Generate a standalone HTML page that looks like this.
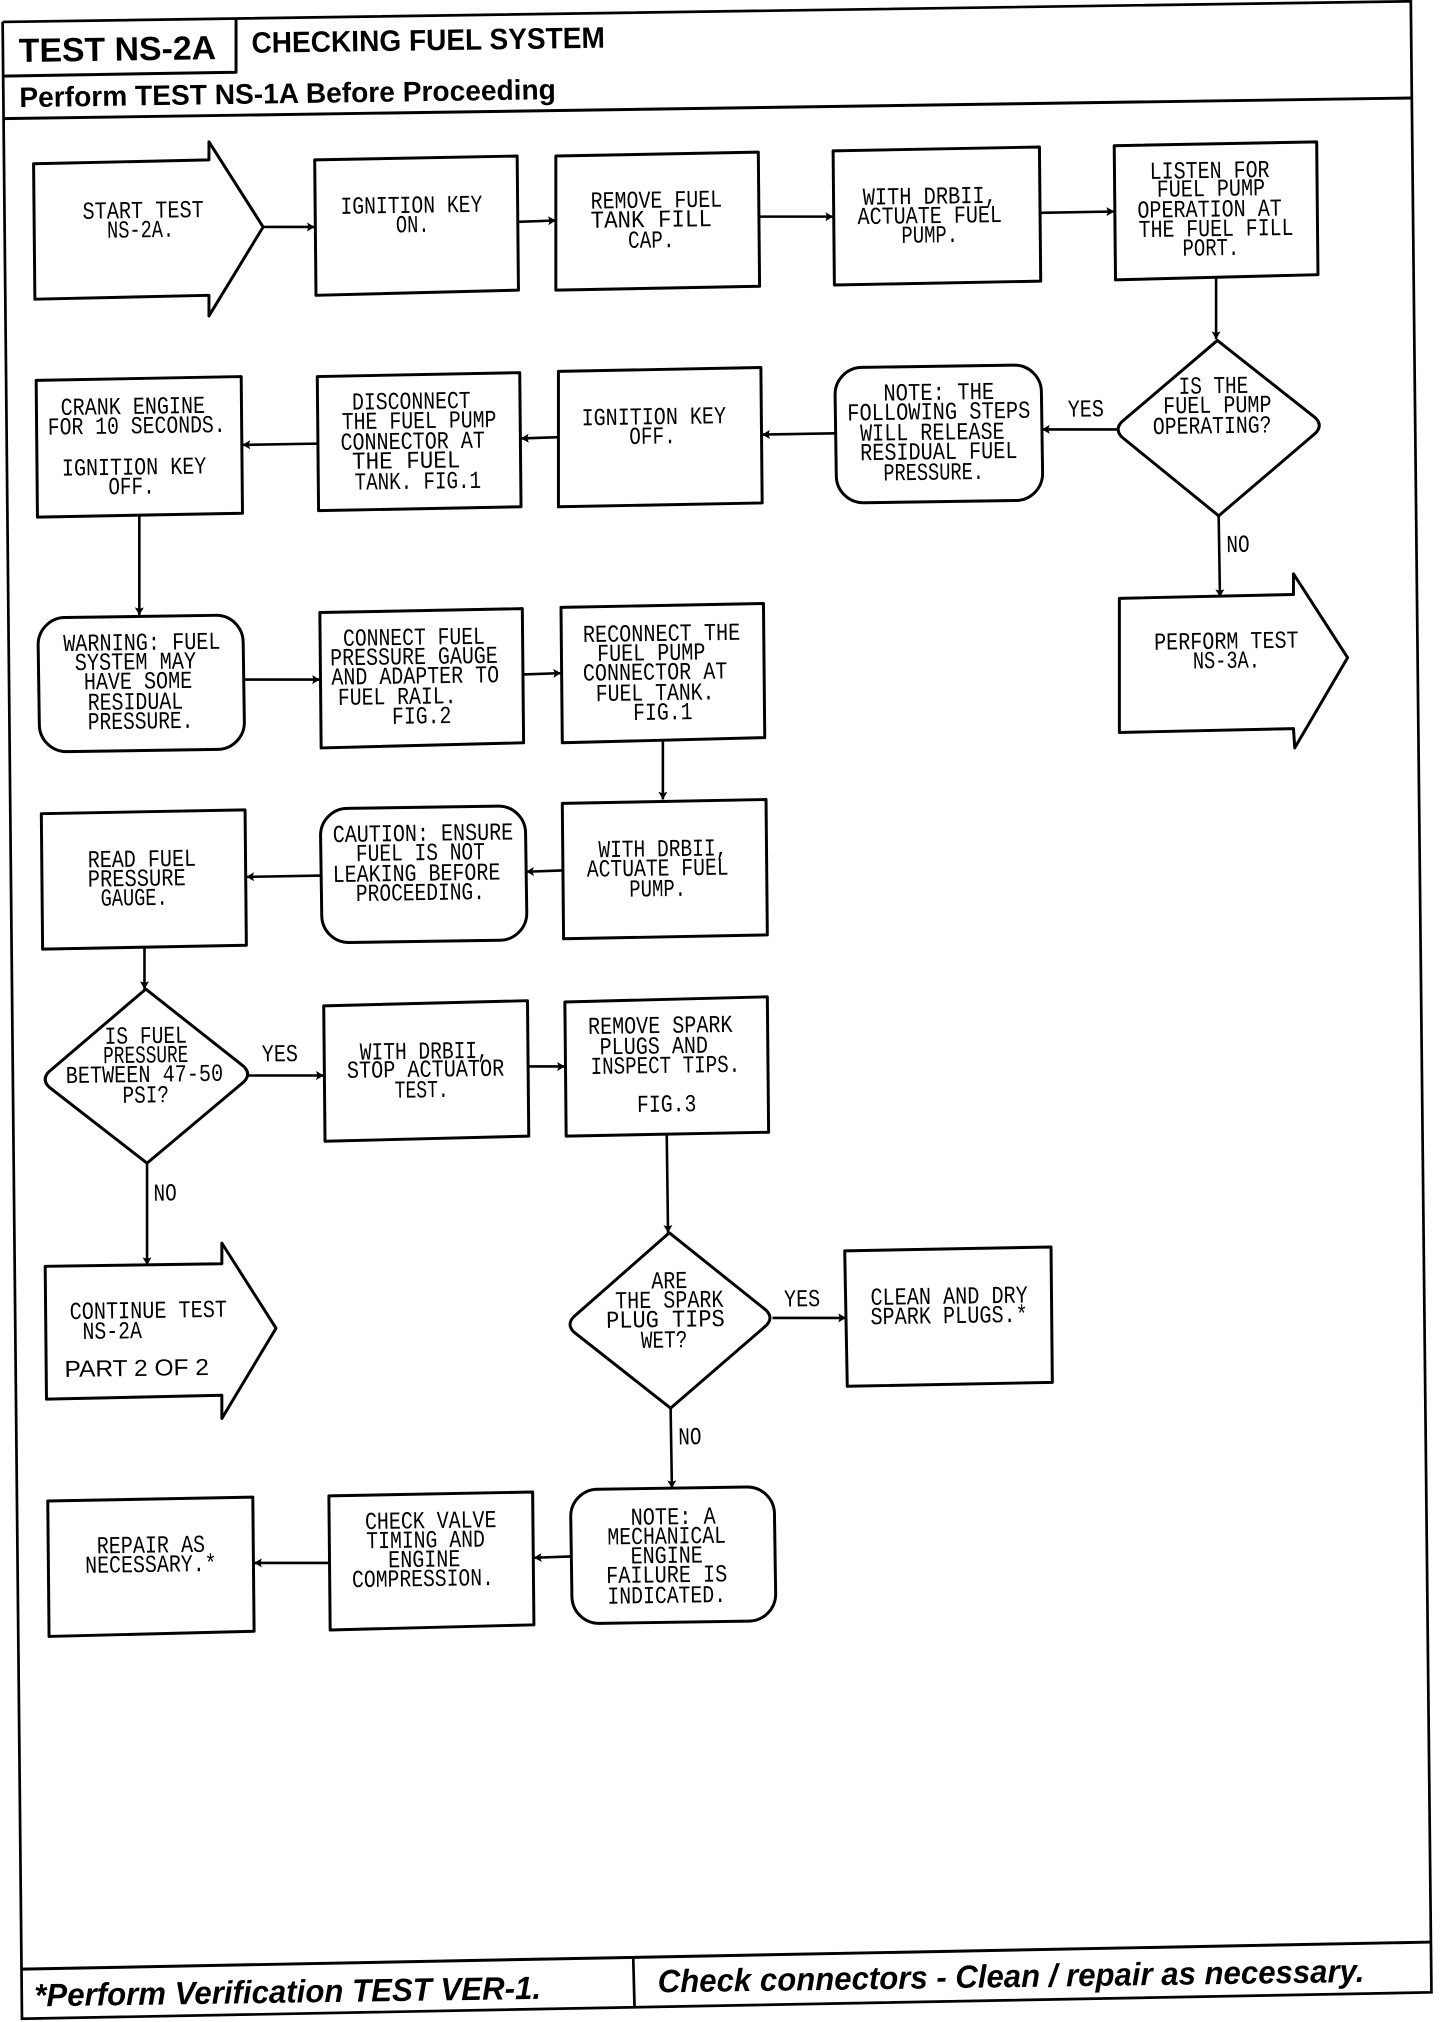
<!DOCTYPE html>
<html><head><meta charset="utf-8"><style>
html,body{margin:0;padding:0;background:#fff}
svg{display:block}
.s{fill:none;stroke:#000;stroke-width:2.3;stroke-linejoin:round}
.b{fill:none;stroke:#000;stroke-width:2.1}
.l{stroke:#000;stroke-width:2;marker-end:url(#a)}
text{transform-box:fill-box;transform-origin:center;transform:rotate(-.85deg);fill:#000;text-anchor:middle}
.m{font:19px "Liberation Mono",monospace}
.h{font:bold 26px "Liberation Sans",sans-serif}
.i{font:italic bold 25px "Liberation Sans",sans-serif}
.p{font:18px "Liberation Sans",sans-serif}
</style></head><body>
<svg xmlns="http://www.w3.org/2000/svg" width="1456" height="2022" viewBox="0 0 1129 1568">
<defs><marker id="a" markerUnits="userSpaceOnUse" markerWidth="8" markerHeight="8" refX="6" refY="3.5" orient="auto"><path d="M0 0L6 3.5L0 7L1.2 3.5Z" fill="#000"/></marker></defs>

<!-- frame -->
<path class="b" d="M2 17L1094 1L1110 1545L17 1565.5L2 17"/>
<path class="s" d="M2 59L183 56L183 14"/>
<path class="s" d="M2 92L1094 76"/>
<path class="s" d="M17 1527L1110 1506"/>
<path class="b" d="M491 1518L492 1556"/>

<!-- row 1 -->
<path class="s" d="M26 127L162 124L162 110L204 176L162 245L162 229L27 232Z"/>
<path class="s" d="M244 124L401 121L402 225L245 229Z"/>
<path class="s" d="M431 121L588 118L589 222L431 225Z"/>
<path class="s" d="M646 117L806 114L807 218L647 221Z"/>
<path class="s" d="M864 113L1021 110L1022 213L865 217Z"/>
<line class="l" x1="205" y1="176" x2="244" y2="176"/>
<line class="l" x1="402" y1="172" x2="431" y2="171"/>
<line class="l" x1="589" y1="168" x2="646" y2="168"/>
<line class="l" x1="807" y1="165" x2="864" y2="164"/>
<line class="l" x1="943" y1="216" x2="943" y2="263"/>

<!-- row 2 -->
<path class="s" d="M944 264L1020 324Q1026 330 1020 336L945 400L870 339Q864 333 870 327Z"/>
<rect class="s" x="648" y="284" width="160" height="105" rx="21" transform="rotate(-.85 728 336)"/>
<path class="s" d="M433 288L590 285L591 390L433 393Z"/>
<path class="s" d="M246 292L403 289L404 393L247 396Z"/>
<path class="s" d="M28 295L187 292L188 398L29 401Z"/>
<line class="l" x1="866" y1="333" x2="808" y2="333"/>
<line class="l" x1="648" y1="336" x2="591" y2="337"/>
<line class="l" x1="433" y1="339" x2="404" y2="340"/>
<line class="l" x1="246" y1="344" x2="188" y2="345"/>
<line class="l" x1="108" y1="400" x2="108" y2="477"/>
<line class="l" x1="945" y1="400" x2="946" y2="463"/>
<path class="s" d="M868 464L1003 461L1003 445L1045 510L1004 580L1003 565L868 568Z"/>

<!-- row 3 -->
<rect class="s" x="30" y="478" width="159" height="104" rx="21" transform="rotate(-.85 110 530)"/>
<path class="s" d="M248 475L405 472L406 576L249 580Z"/>
<path class="s" d="M435 471L592 468L593 572L436 576Z"/>
<line class="l" x1="189" y1="527" x2="248" y2="527"/>
<line class="l" x1="406" y1="523" x2="435" y2="522"/>
<line class="l" x1="514" y1="575" x2="514" y2="620"/>

<!-- row 4 -->
<path class="s" d="M436 623L594 620L595 725L437 728Z"/>
<rect class="s" x="249" y="626" width="159" height="104" rx="21" transform="rotate(-.85 328 678)"/>
<path class="s" d="M32 631L190 628L191 733L33 736Z"/>
<line class="l" x1="436" y1="675" x2="408" y2="676"/>
<line class="l" x1="249" y1="679" x2="191" y2="680"/>
<line class="l" x1="112" y1="735" x2="112" y2="767"/>

<!-- row 5 -->
<path class="s" d="M113 767L189 827Q195 833 189 839L114 902L38 843Q32 837 38 831Z"/>
<path class="s" d="M251 780L409 776L410 881L252 885Z"/>
<path class="s" d="M438 777L595 773L596 878L439 881Z"/>
<line class="l" x1="193" y1="834" x2="251" y2="834"/>
<line class="l" x1="410" y1="827" x2="438" y2="827"/>
<line class="l" x1="517" y1="880" x2="518" y2="956"/>
<line class="l" x1="114" y1="902" x2="114" y2="981"/>

<!-- row 6 -->
<path class="s" d="M35 982L172 980L172 964L214 1030L172 1100L172 1082L36 1085Z"/>
<path class="s" d="M519 956L594 1016Q600 1022 594 1028L520 1092L445 1033Q439 1027 445 1021Z"/>
<path class="s" d="M655 970L815 967L816 1072L657 1075Z"/>
<line class="l" x1="599" y1="1022" x2="656" y2="1022"/>
<line class="l" x1="520" y1="1092" x2="521" y2="1154"/>

<!-- row 7 -->
<rect class="s" x="443" y="1154" width="158" height="104" rx="21" transform="rotate(-.85 522 1206)"/>
<path class="s" d="M255 1160L413 1157L414 1260L256 1264Z"/>
<path class="s" d="M37 1164L196 1161L197 1265L38 1269Z"/>
<line class="l" x1="443" y1="1207" x2="414" y2="1208"/>
<line class="l" x1="255" y1="1212" x2="197" y2="1212"/>

<!-- headers -->
<text class="h" x="91" y="47" textLength="153" lengthAdjust="spacingAndGlyphs">TEST NS-2A</text>
<text class="h" x="332" y="39" textLength="274" lengthAdjust="spacingAndGlyphs" style="font-size:23px">CHECKING FUEL SYSTEM</text>
<text class="h" x="223" y="80" textLength="416" lengthAdjust="spacingAndGlyphs" style="font-size:22px">Perform TEST NS-1A Before Proceeding</text>
<text class="i" x="223" y="1553" textLength="393" lengthAdjust="spacingAndGlyphs">*Perform Verification TEST VER-1.</text>
<text class="i" x="784" y="1541" textLength="548" lengthAdjust="spacingAndGlyphs">Check connectors - Clean / repair as necessary.</text>

<!-- body text -->
<g class="m">
<text x="111" y="169" textLength="94" lengthAdjust="spacingAndGlyphs">START TEST</text>
<text x="109" y="184" textLength="52" lengthAdjust="spacingAndGlyphs">NS-2A.</text>
<text x="319" y="165" textLength="110" lengthAdjust="spacingAndGlyphs">IGNITION KEY</text>
<text x="320" y="180" textLength="26" lengthAdjust="spacingAndGlyphs">ON.</text>
<text x="509" y="161" textLength="102" lengthAdjust="spacingAndGlyphs">REMOVE FUEL</text>
<text x="505" y="176" textLength="94" lengthAdjust="spacingAndGlyphs">TANK FILL</text>
<text x="505" y="192" textLength="36" lengthAdjust="spacingAndGlyphs">CAP.</text>
<text x="721" y="158" textLength="104" lengthAdjust="spacingAndGlyphs">WITH DRBII,</text>
<text x="721" y="173" textLength="112" lengthAdjust="spacingAndGlyphs">ACTUATE FUEL</text>
<text x="721" y="188" textLength="44" lengthAdjust="spacingAndGlyphs">PUMP.</text>
<text x="938" y="138" textLength="93" lengthAdjust="spacingAndGlyphs">LISTEN FOR</text>
<text x="939" y="152" textLength="84" lengthAdjust="spacingAndGlyphs">FUEL PUMP</text>
<text x="938" y="168" textLength="112" lengthAdjust="spacingAndGlyphs">OPERATION AT</text>
<text x="943" y="183" textLength="120" lengthAdjust="spacingAndGlyphs">THE FUEL FILL</text>
<text x="939" y="198" textLength="44" lengthAdjust="spacingAndGlyphs">PORT.</text>
<text x="941" y="305" textLength="54" lengthAdjust="spacingAndGlyphs">IS THE</text>
<text x="944" y="320" textLength="84" lengthAdjust="spacingAndGlyphs">FUEL PUMP</text>
<text x="940" y="336" textLength="92" lengthAdjust="spacingAndGlyphs">OPERATING?</text>
<text x="842" y="323" textLength="28" lengthAdjust="spacingAndGlyphs">YES</text>
<text x="960" y="428" textLength="18" lengthAdjust="spacingAndGlyphs">NO</text>
<text x="728" y="310" textLength="86" lengthAdjust="spacingAndGlyphs">NOTE: THE</text>
<text x="728" y="325" textLength="142" lengthAdjust="spacingAndGlyphs">FOLLOWING STEPS</text>
<text x="723" y="341" textLength="112" lengthAdjust="spacingAndGlyphs">WILL RELEASE</text>
<text x="728" y="356" textLength="122" lengthAdjust="spacingAndGlyphs">RESIDUAL FUEL</text>
<text x="724" y="372" textLength="78" lengthAdjust="spacingAndGlyphs">PRESSURE.</text>
<text x="507" y="329" textLength="112" lengthAdjust="spacingAndGlyphs">IGNITION KEY</text>
<text x="506" y="344" textLength="36" lengthAdjust="spacingAndGlyphs">OFF.</text>
<text x="319" y="317" textLength="92" lengthAdjust="spacingAndGlyphs">DISCONNECT</text>
<text x="325" y="332" textLength="120" lengthAdjust="spacingAndGlyphs">THE FUEL PUMP</text>
<text x="320" y="348" textLength="112" lengthAdjust="spacingAndGlyphs">CONNECTOR AT</text>
<text x="315" y="363" textLength="84" lengthAdjust="spacingAndGlyphs">THE FUEL</text>
<text x="324" y="379" textLength="98" lengthAdjust="spacingAndGlyphs">TANK. FIG.1</text>
<text x="103" y="321" textLength="112" lengthAdjust="spacingAndGlyphs">CRANK ENGINE</text>
<text x="106" y="336" textLength="138" lengthAdjust="spacingAndGlyphs">FOR 10 SECONDS.</text>
<text x="104" y="368" textLength="112" lengthAdjust="spacingAndGlyphs">IGNITION KEY</text>
<text x="102" y="383" textLength="36" lengthAdjust="spacingAndGlyphs">OFF.</text>
<text x="951" y="503" textLength="112" lengthAdjust="spacingAndGlyphs">PERFORM TEST</text>
<text x="951" y="518" textLength="52" lengthAdjust="spacingAndGlyphs">NS-3A.</text>
<text x="110" y="504" textLength="122" lengthAdjust="spacingAndGlyphs">WARNING: FUEL</text>
<text x="105" y="519" textLength="94" lengthAdjust="spacingAndGlyphs">SYSTEM MAY</text>
<text x="107" y="534" textLength="84" lengthAdjust="spacingAndGlyphs">HAVE SOME</text>
<text x="105" y="550" textLength="74" lengthAdjust="spacingAndGlyphs">RESIDUAL</text>
<text x="109" y="565" textLength="82" lengthAdjust="spacingAndGlyphs">PRESSURE.</text>
<text x="321" y="500" textLength="110" lengthAdjust="spacingAndGlyphs">CONNECT FUEL</text>
<text x="321" y="515" textLength="130" lengthAdjust="spacingAndGlyphs">PRESSURE GAUGE</text>
<text x="322" y="530" textLength="130" lengthAdjust="spacingAndGlyphs">AND ADAPTER TO</text>
<text x="308" y="546" textLength="92" lengthAdjust="spacingAndGlyphs">FUEL RAIL.</text>
<text x="327" y="561" textLength="46" lengthAdjust="spacingAndGlyphs">FIG.2</text>
<text x="513" y="497" textLength="122" lengthAdjust="spacingAndGlyphs">RECONNECT THE</text>
<text x="505" y="512" textLength="84" lengthAdjust="spacingAndGlyphs">FUEL PUMP</text>
<text x="508" y="527" textLength="112" lengthAdjust="spacingAndGlyphs">CONNECTOR AT</text>
<text x="508" y="543" textLength="92" lengthAdjust="spacingAndGlyphs">FUEL TANK.</text>
<text x="514" y="558" textLength="46" lengthAdjust="spacingAndGlyphs">FIG.1</text>
<text x="514" y="664" textLength="100" lengthAdjust="spacingAndGlyphs">WITH DRBII,</text>
<text x="510" y="679" textLength="110" lengthAdjust="spacingAndGlyphs">ACTUATE FUEL</text>
<text x="510" y="695" textLength="44" lengthAdjust="spacingAndGlyphs">PUMP.</text>
<text x="328" y="652" textLength="140" lengthAdjust="spacingAndGlyphs">CAUTION: ENSURE</text>
<text x="326" y="667" textLength="100" lengthAdjust="spacingAndGlyphs">FUEL IS NOT</text>
<text x="323" y="683" textLength="130" lengthAdjust="spacingAndGlyphs">LEAKING BEFORE</text>
<text x="326" y="698" textLength="100" lengthAdjust="spacingAndGlyphs">PROCEEDING.</text>
<text x="110" y="672" textLength="84" lengthAdjust="spacingAndGlyphs">READ FUEL</text>
<text x="106" y="687" textLength="76" lengthAdjust="spacingAndGlyphs">PRESSURE</text>
<text x="104" y="702" textLength="52" lengthAdjust="spacingAndGlyphs">GAUGE.</text>
<text x="113" y="809" textLength="64" lengthAdjust="spacingAndGlyphs">IS FUEL</text>
<text x="113" y="824" textLength="66" lengthAdjust="spacingAndGlyphs">PRESSURE</text>
<text x="112" y="839" textLength="122" lengthAdjust="spacingAndGlyphs">BETWEEN 47-50</text>
<text x="113" y="855" textLength="36" lengthAdjust="spacingAndGlyphs">PSI?</text>
<text x="217" y="823" textLength="28" lengthAdjust="spacingAndGlyphs">YES</text>
<text x="128" y="931" textLength="18" lengthAdjust="spacingAndGlyphs">NO</text>
<text x="329" y="821" textLength="100" lengthAdjust="spacingAndGlyphs">WITH DRBII,</text>
<text x="330" y="835" textLength="122" lengthAdjust="spacingAndGlyphs">STOP ACTUATOR</text>
<text x="327" y="851" textLength="42" lengthAdjust="spacingAndGlyphs">TEST.</text>
<text x="512" y="801" textLength="112" lengthAdjust="spacingAndGlyphs">REMOVE SPARK</text>
<text x="507" y="817" textLength="84" lengthAdjust="spacingAndGlyphs">PLUGS AND</text>
<text x="516" y="832" textLength="116" lengthAdjust="spacingAndGlyphs">INSPECT TIPS.</text>
<text x="517" y="862" textLength="46" lengthAdjust="spacingAndGlyphs">FIG.3</text>
<text x="519" y="999" textLength="28" lengthAdjust="spacingAndGlyphs">ARE</text>
<text x="519" y="1014" textLength="84" lengthAdjust="spacingAndGlyphs">THE SPARK</text>
<text x="516" y="1029" textLength="92" lengthAdjust="spacingAndGlyphs">PLUG TIPS</text>
<text x="515" y="1045" textLength="36" lengthAdjust="spacingAndGlyphs">WET?</text>
<text x="622" y="1013" textLength="28" lengthAdjust="spacingAndGlyphs">YES</text>
<text x="535" y="1120" textLength="18" lengthAdjust="spacingAndGlyphs">NO</text>
<text x="736" y="1011" textLength="122" lengthAdjust="spacingAndGlyphs">CLEAN AND DRY</text>
<text x="736" y="1026" textLength="122" lengthAdjust="spacingAndGlyphs">SPARK PLUGS.*</text>
<text x="115" y="1022" textLength="122" lengthAdjust="spacingAndGlyphs">CONTINUE TEST</text>
<text x="87" y="1038" textLength="46" lengthAdjust="spacingAndGlyphs">NS-2A</text>
<text x="522" y="1182" textLength="66" lengthAdjust="spacingAndGlyphs">NOTE: A</text>
<text x="517" y="1197" textLength="92" lengthAdjust="spacingAndGlyphs">MECHANICAL</text>
<text x="517" y="1212" textLength="56" lengthAdjust="spacingAndGlyphs">ENGINE</text>
<text x="517" y="1227" textLength="94" lengthAdjust="spacingAndGlyphs">FAILURE IS</text>
<text x="517" y="1243" textLength="92" lengthAdjust="spacingAndGlyphs">INDICATED.</text>
<text x="334" y="1185" textLength="102" lengthAdjust="spacingAndGlyphs">CHECK VALVE</text>
<text x="330" y="1200" textLength="92" lengthAdjust="spacingAndGlyphs">TIMING AND</text>
<text x="329" y="1215" textLength="56" lengthAdjust="spacingAndGlyphs">ENGINE</text>
<text x="328" y="1230" textLength="110" lengthAdjust="spacingAndGlyphs">COMPRESSION.</text>
<text x="117" y="1204" textLength="84" lengthAdjust="spacingAndGlyphs">REPAIR AS</text>
<text x="117" y="1219" textLength="102" lengthAdjust="spacingAndGlyphs">NECESSARY.*</text>
</g>
<text class="p" x="106" y="1067" textLength="112" lengthAdjust="spacingAndGlyphs">PART  2 OF 2</text>
</svg>
</body></html>
